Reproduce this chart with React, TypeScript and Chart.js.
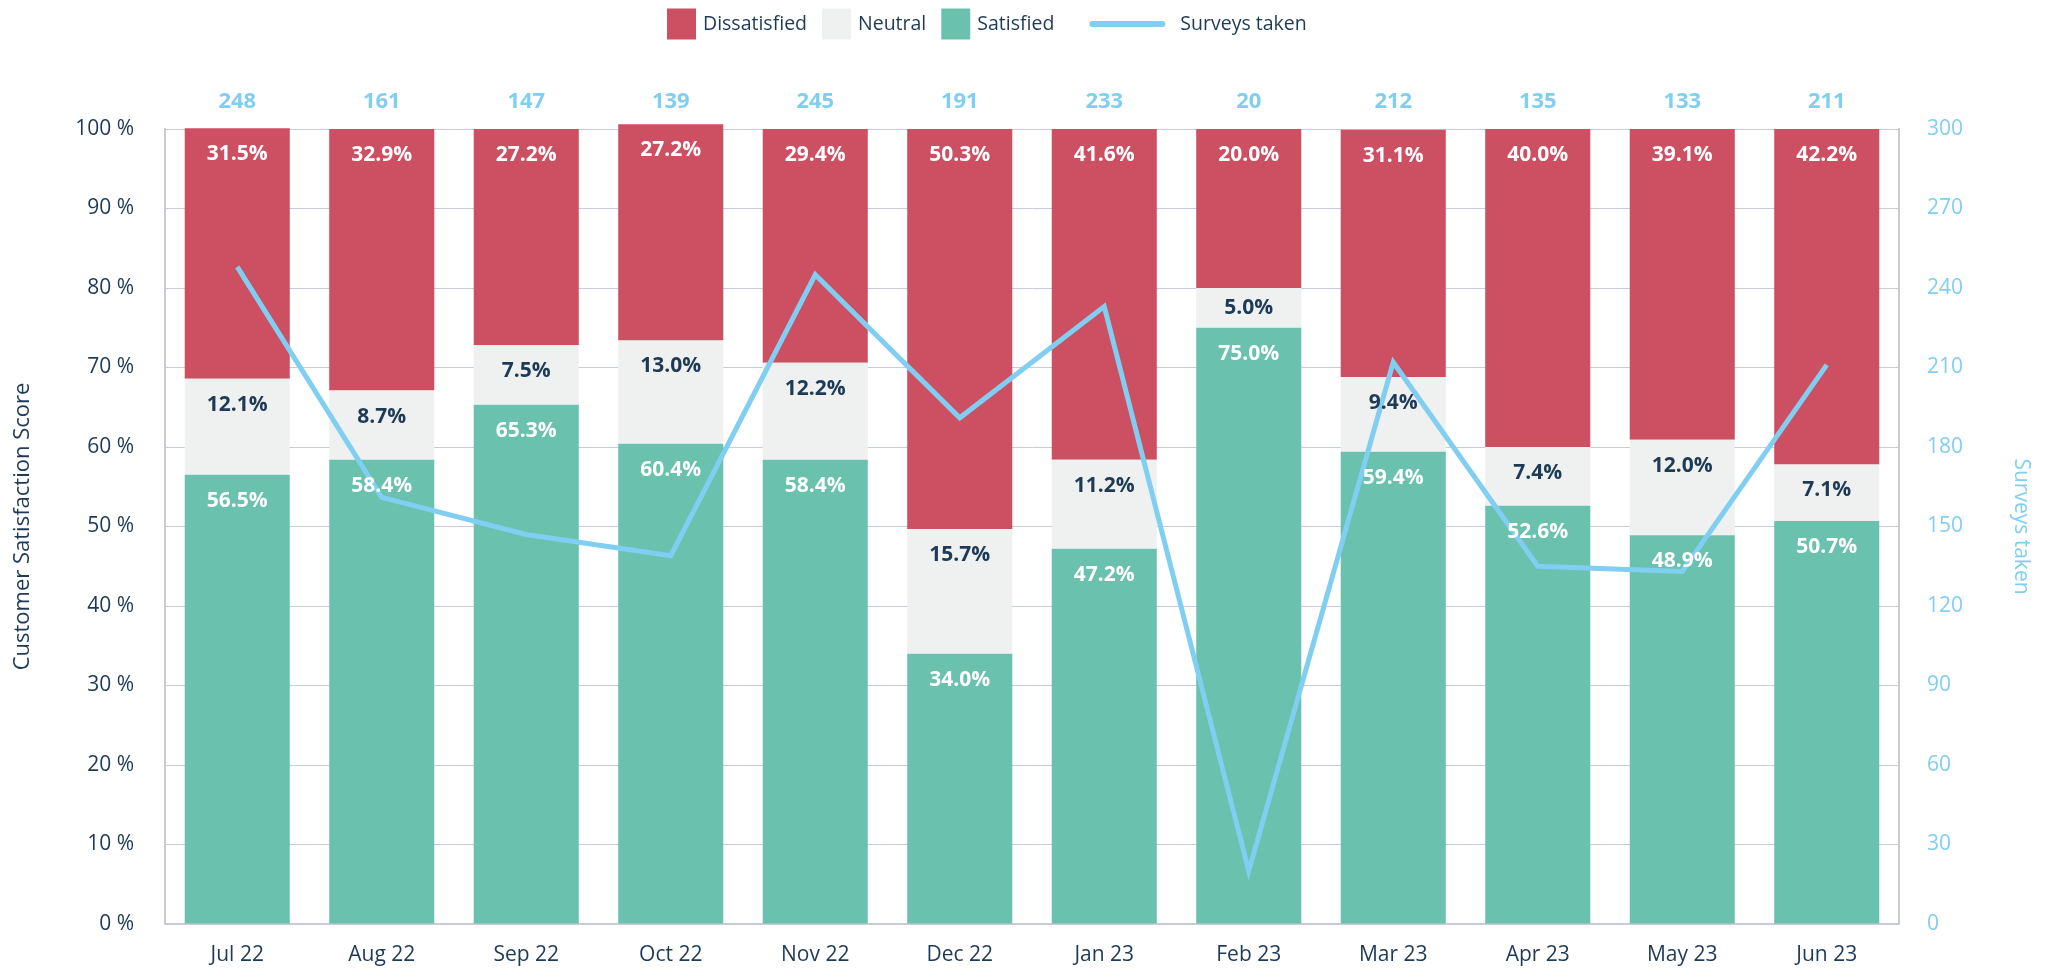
import React, { useEffect, useRef } from "react";
import { Chart, registerables } from "chart.js";

Chart.register(...registerables);

const months = ["Jul 22", "Aug 22", "Sep 22", "Oct 22", "Nov 22", "Dec 22", "Jan 23", "Feb 23", "Mar 23", "Apr 23", "May 23", "Jun 23"];
const satisfied = [56.5, 58.4, 65.3, 60.4, 58.4, 34.0, 47.2, 75.0, 59.4, 52.6, 48.9, 50.7];
const neutral = [12.1, 8.7, 7.5, 13.0, 12.2, 15.7, 11.2, 5.0, 9.4, 7.4, 12.0, 7.1];
const dissatisfied = [31.5, 32.9, 27.2, 27.2, 29.4, 50.3, 41.6, 20.0, 31.1, 40.0, 39.1, 42.2];
const surveys = [248, 161, 147, 139, 245, 191, 233, 20, 212, 135, 133, 211];

const RED = "#cd4f62";
const GREY = "#eff1f0";
const GREEN = "#69c1ae";
const BLUE = "#80cef2";
const DARK = "#1d3a56";
const GRID = "#c9cbd6";
const FONT = '"Open Sans", sans-serif';

const barValues = [satisfied, neutral, dissatisfied];

const labelPlugin = {
  id: "barLabels",
  afterDatasetsDraw(chart: any) {
    const ctx = chart.ctx;
    ctx.save();
    ctx.textAlign = "center";
    ctx.textBaseline = "middle";
    ctx.font = `bold 21px ${FONT}`;
    for (let di = 0; di < 3; di++) {
      const meta = chart.getDatasetMeta(di);
      meta.data.forEach((bar: any, i: number) => {
        const p = bar.getProps(["x", "y", "base"], true);
        const h = p.base - p.y;
        const off = Math.min(26, h / 2);
        ctx.fillStyle = di === 1 ? DARK : "#ffffff";
        ctx.fillText(barValues[di][i].toFixed(1) + "%", p.x, p.y + off);
      });
    }
    ctx.font = `bold 22px ${FONT}`;
    ctx.fillStyle = BLUE;
    const meta0 = chart.getDatasetMeta(0);
    meta0.data.forEach((bar: any, i: number) => {
      ctx.fillText(String(surveys[i]), bar.x, chart.chartArea.top - 27);
    });
    ctx.restore();
  },
};

const legendPlugin = {
  id: "customLegend",
  afterDraw(chart: any) {
    const ctx = chart.ctx;
    ctx.save();
    ctx.font = `19.5px ${FONT}`;
    ctx.textBaseline = "middle";
    ctx.textAlign = "left";
    const cy = 24;
    let x = 667;
    const items = [
      { label: "Dissatisfied", color: RED },
      { label: "Neutral", color: GREY },
      { label: "Satisfied", color: GREEN },
    ];
    items.forEach((it) => {
      ctx.fillStyle = it.color;
      ctx.fillRect(x, cy - 15.5, 29, 31);
      ctx.fillStyle = DARK;
      ctx.fillText(it.label, x + 36, cy);
      x = x + 36 + ctx.measureText(it.label).width + 15;
    });
    x += 20;
    ctx.strokeStyle = BLUE;
    ctx.lineWidth = 6;
    ctx.lineCap = "round";
    ctx.beginPath();
    ctx.moveTo(x + 3, cy);
    ctx.lineTo(x + 73, cy);
    ctx.stroke();
    ctx.fillStyle = DARK;
    ctx.fillText("Surveys taken", x + 91, cy);
    ctx.restore();
  },
};

export default function App() {
  const ref = useRef<HTMLCanvasElement | null>(null);
  useEffect(() => {
    document.body.style.margin = "0";
    const canvas = ref.current;
    if (!canvas) return;
    const barCommon = {
      type: "bar" as const,
      yAxisID: "y",
      stack: "s",
      order: 1,
      clip: false as any,
      barPercentage: 0.727,
      categoryPercentage: 1,
      borderWidth: 0,
    };
    const chart = new Chart(canvas, {
      type: "bar",
      data: {
        labels: months,
        datasets: [
          { ...barCommon, label: "Satisfied", data: satisfied, backgroundColor: GREEN },
          { ...barCommon, label: "Neutral", data: neutral, backgroundColor: GREY },
          { ...barCommon, label: "Dissatisfied", data: dissatisfied, backgroundColor: RED },
          {
            type: "line" as const,
            label: "Surveys taken",
            data: surveys,
            yAxisID: "y1",
            order: 0,
            borderColor: BLUE,
            borderWidth: 5,
            pointRadius: 0,
            tension: 0,
            clip: false as any,
          } as any,
        ],
      },
      options: {
        responsive: false,
        animation: false,
        devicePixelRatio: 1,
        layout: { padding: { top: 129, left: 0, right: 0, bottom: 0 } },
        plugins: { legend: { display: false }, tooltip: { enabled: false } },
        scales: {
          x: {
            stacked: true,
            grid: { display: false, drawTicks: false },
            border: { display: true, color: GRID, width: 2 },
            ticks: { color: DARK, font: { family: FONT, size: 21 }, padding: 18 },
            afterFit: (s: any) => { s.height = 48; },
          },
          y: {
            position: "left",
            stacked: true,
            min: 0,
            max: 100,
            grid: { color: GRID, lineWidth: 1, drawTicks: false },
            border: { display: true, color: GRID, width: 2 },
            ticks: {
              stepSize: 10,
              color: DARK,
              font: { family: FONT, size: 21 },
              padding: 31,
              callback: (v: any) => v + " %",
            },
            title: {
              display: true,
              text: "Customer Satisfaction Score",
              color: DARK,
              font: { family: FONT, size: 22 },
              padding: { top: 10, bottom: 0 },
            },
            afterFit: (s: any) => { s.width = 165; },
          },
          y1: {
            position: "right",
            min: 0,
            max: 300,
            grid: { display: false, drawTicks: false },
            border: { display: true, color: GRID, width: 2 },
            ticks: {
              stepSize: 30,
              color: BLUE,
              font: { family: FONT, size: 21 },
              padding: 28,
            },
            title: {
              display: true,
              text: "Surveys taken",
              color: BLUE,
              font: { family: FONT, size: 21 },
              padding: { top: 24, bottom: 0 },
            },
            afterFit: (s: any) => { s.width = 159; },
          },
        },
      } as any,
      plugins: [labelPlugin, legendPlugin],
    });
    return () => chart.destroy();
  }, []);
  return (
    <div style={{ width: 2058, height: 972 }}>
      <canvas ref={ref} width={2058} height={972} style={{ display: "block", width: 2058, height: 972 }} />
    </div>
  );
}
